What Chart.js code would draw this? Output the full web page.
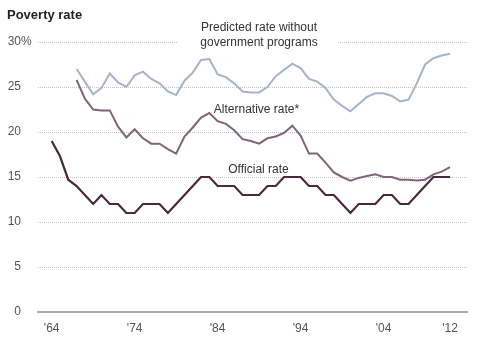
<!DOCTYPE html>
<html><head><meta charset="utf-8">
<script src="https://cdn.jsdelivr.net/npm/chart.js@4"></script>
<style>html,body{margin:0;padding:0;background:#fff}#wrap{width:483px;height:355px;position:relative}</style>
</head><body><div id="wrap"><canvas id="c"></canvas></div>
<script>
const years = [1964,1965,1966,1967,1968,1969,1970,1971,1972,1973,1974,1975,1976,1977,1978,1979,1980,1981,1982,1983,1984,1985,1986,1987,1988,1989,1990,1991,1992,1993,1994,1995,1996,1997,1998,1999,2000,2001,2002,2003,2004,2005,2006,2007,2008,2009,2010,2011,2012];
const officialRate = [19.0,17.3,14.7,14,13,12,13,12,12,11,11,12,12,12,11,12,13,14,15,15,14,14,14,13,13,13,14,14,15,15,15,14,14,13,13,12,11,12,12,12,13,13,12,12,13,14,15,15,15];
const alternativeRate = [null,null,null,25.8,23.7,22.5,22.4,22.4,20.6,19.4,20.3,19.3,18.7,18.7,18.1,17.6,19.5,20.5,21.6,22.1,21.2,20.9,20.2,19.2,19.0,18.7,19.3,19.5,19.9,20.7,19.6,17.6,17.6,16.6,15.5,15.0,14.6,14.9,15.1,15.3,15.0,15.0,14.7,14.7,14.6,14.7,15.3,15.6,16.1];
const predictedRate = [null,null,null,27.0,25.6,24.2,24.9,26.5,25.5,25.0,26.3,26.7,25.9,25.4,24.5,24.1,25.7,26.6,28.0,28.1,26.4,26.1,25.4,24.5,24.4,24.4,25.0,26.2,26.9,27.6,27.1,25.9,25.6,24.9,23.6,22.9,22.3,23.1,23.9,24.3,24.3,24.0,23.4,23.6,25.4,27.5,28.2,28.5,28.7];
const xTickYears = [1964,1974,1984,1994,2004,2012];
const yTickValues = [0,5,10,15,20,25,30];
const seriesLabels = ["Predicted rate without government programs","Alternative rate*","Official rate"];

function pts(arr){ return years.map((y,i)=>({x:y,y:arr[i]})).filter(p=>p.y!==null); }

const textPlugin = {
  id:'texts',
  afterDraw(chart){
    const ctx = chart.ctx, xs = chart.scales.x, ys = chart.scales.y;
    ctx.save();
    ctx.fillStyle = '#222';
    ctx.font = 'bold 13px "Liberation Sans", Arial, sans-serif';
    ctx.textAlign = 'left'; ctx.textBaseline = 'alphabetic';
    ctx.fillText('Poverty rate', 7, 18.5);
    // percent sign after 30
    ctx.font = '12px "Liberation Sans", Arial, sans-serif';
    ctx.fillStyle = '#555';
    ctx.textBaseline = 'middle';
    ctx.fillText('%', 21, ys.getPixelForValue(30));
    // gap in top gridline behind label
    ctx.fillStyle = '#fff';
    ctx.fillRect(178, ys.getPixelForValue(30)-3, 159, 6);
    ctx.fillStyle = '#333';
    ctx.textAlign = 'center'; ctx.textBaseline = 'alphabetic';
    ctx.fillText('Predicted rate without', 259, 31);
    ctx.fillText('government programs', 259, 46);
    ctx.fillText('Alternative rate*', 256.5, 113);
    ctx.fillText('Official rate', 258.5, 173);
    ctx.restore();
  }
};

new Chart(document.getElementById('c'), {
  type:'line',
  data:{datasets:[
    {label:seriesLabels[0], data:pts(predictedRate), borderColor:'#a9b2cc', borderWidth:2, pointRadius:0, tension:0},
    {label:seriesLabels[1], data:pts(alternativeRate), borderColor:'#7f6577', borderWidth:2, pointRadius:0, tension:0},
    {label:seriesLabels[2], data:pts(officialRate), borderColor:'#4a2a3a', borderWidth:2.2, pointRadius:0, tension:0}
  ]},
  options:{
    responsive:true, maintainAspectRatio:false, animation:false,
    layout:{padding:{top:42,right:16,left:0,bottom:0}},
    plugins:{legend:{display:false}, tooltip:{enabled:false}},
    scales:{
      x:{type:'linear', min:1962.35, max:2014.05,
        afterBuildTicks(s){ s.ticks = xTickYears.map(v=>({value:v})); },
        afterFit(s){ s.height = 43; },
        grid:{display:false, drawTicks:false},
        border:{display:true, color:'#aaa', width:2},
        ticks:{padding:9, color:'#555', font:{size:12, family:'"Liberation Sans", Arial, sans-serif'}, maxRotation:0, autoSkip:false,
          callback:(v)=>"'"+String(v).slice(2)}
      },
      y:{min:0, max:30,
        afterBuildTicks(s){ s.ticks = yTickValues.map(v=>({value:v})); },
        afterFit(s){ s.width = 38; },
        grid:{drawTicks:false, color:(c)=> (c.tick && c.tick.value===0) ? 'rgba(0,0,0,0)' : '#c4c4c4', lineWidth:1},
        border:{display:false, dash:[1,1]},
        ticks:{padding:17, color:'#555', font:{size:12, family:'"Liberation Sans", Arial, sans-serif'}, callback:(v)=>String(v)}
      }
    }
  },
  plugins:[textPlugin]
});
</script></body></html>
